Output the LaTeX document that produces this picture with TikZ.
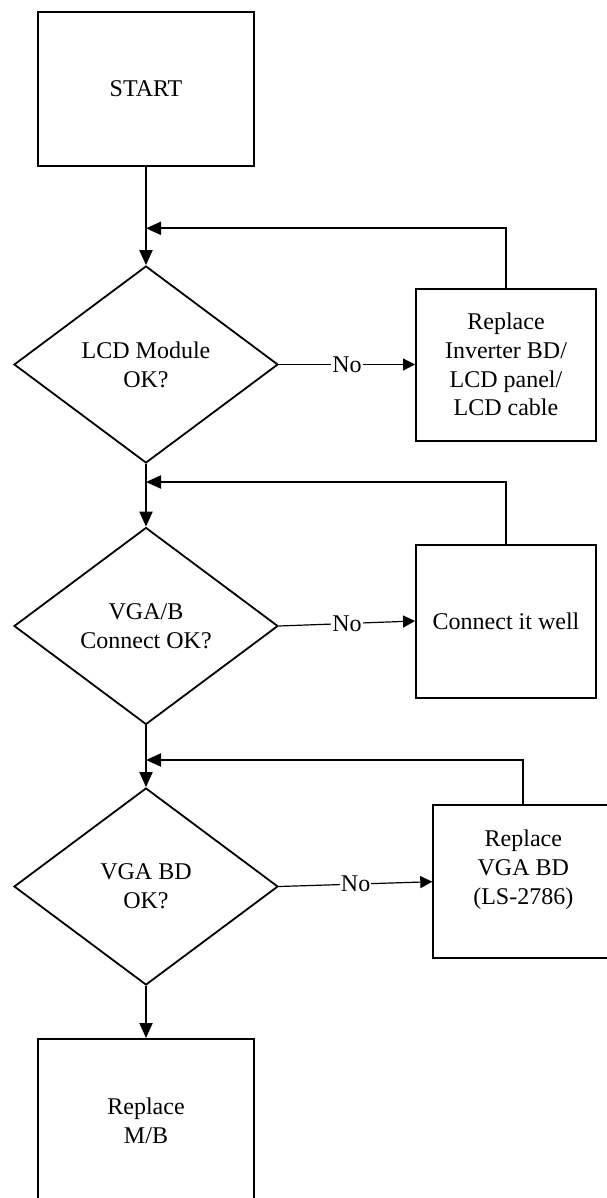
\documentclass[tikz,border=0pt]{standalone}
\usepackage{fontspec}
\setmainfont{Liberation Serif}
\usetikzlibrary{shapes.geometric,arrows.meta}
\tikzset{
  box/.style={draw, line width=2pt, rectangle, inner sep=0pt, align=center,
    font=\fontsize{24}{28.7}\selectfont},
  dec/.style={draw, line width=1.8pt, diamond, inner sep=0pt, align=center,
    minimum width=264pt, minimum height=197pt,
    font=\fontsize{24}{28.7}\selectfont},
  flow/.style={line width=2pt, -{Triangle[length=15pt,width=13pt]}},
  noline/.style={line width=1.2pt, -{Triangle[length=12pt,width=12pt]}},
  nolabel/.style={fill=white, inner sep=1pt, font=\fontsize{24}{28.7}\selectfont}
}
\begin{document}
\begin{tikzpicture}[x=1pt,y=-1pt]
\useasboundingbox[fill=white] (0,0) rectangle (607,1198);
\node[box, minimum width=216pt, minimum height=154pt] (start) at (146,89) {START};
\node[dec] (d1) at (146,364.5) {LCD Module\\OK?};
\node[box, minimum width=180pt, minimum height=152pt] (r1) at (506,364.5)
  {Replace\\Inverter BD/\\LCD panel/\\LCD cable};
\node[dec] (d2) at (146,626) {VGA/B\\Connect OK?};
\node[box, minimum width=180pt, minimum height=153pt] (r2) at (506,621) {Connect it well};
\node[dec] (d3) at (146,886.5) {VGA BD\\OK?};
\node[box, minimum width=180pt, minimum height=153pt] (r3) at (523.3,881.7)
  {Replace\\VGA BD\\(LS-2786)\\\mbox{}};
\node[box, minimum width=216pt, minimum height=164pt] (end) at (146,1121) {Replace\\M/B};

\coordinate (f1) at (146,228.3);
\coordinate (f2) at (146,482);
\coordinate (f3) at (146,760);

\draw[flow] (start.south) -- (d1.north);
\draw[flow] (d1.south) -- (d2.north);
\draw[flow] (d2.south) -- (d3.north);
\draw[flow] (d3.south) -- (end.north);

\draw[flow] (r1.north) |- (f1);
\draw[flow] (r2.north) |- (f2);
\draw[flow] (r3.north) |- (f3);

\draw[noline] (d1.east) -- node[nolabel] {No} (r1.west);
\draw[noline] (d2.east) -- node[nolabel] {No} (r2.west);
\draw[noline] (d3.east) -- node[nolabel] {No} (r3.west);
\end{tikzpicture}
\end{document}
